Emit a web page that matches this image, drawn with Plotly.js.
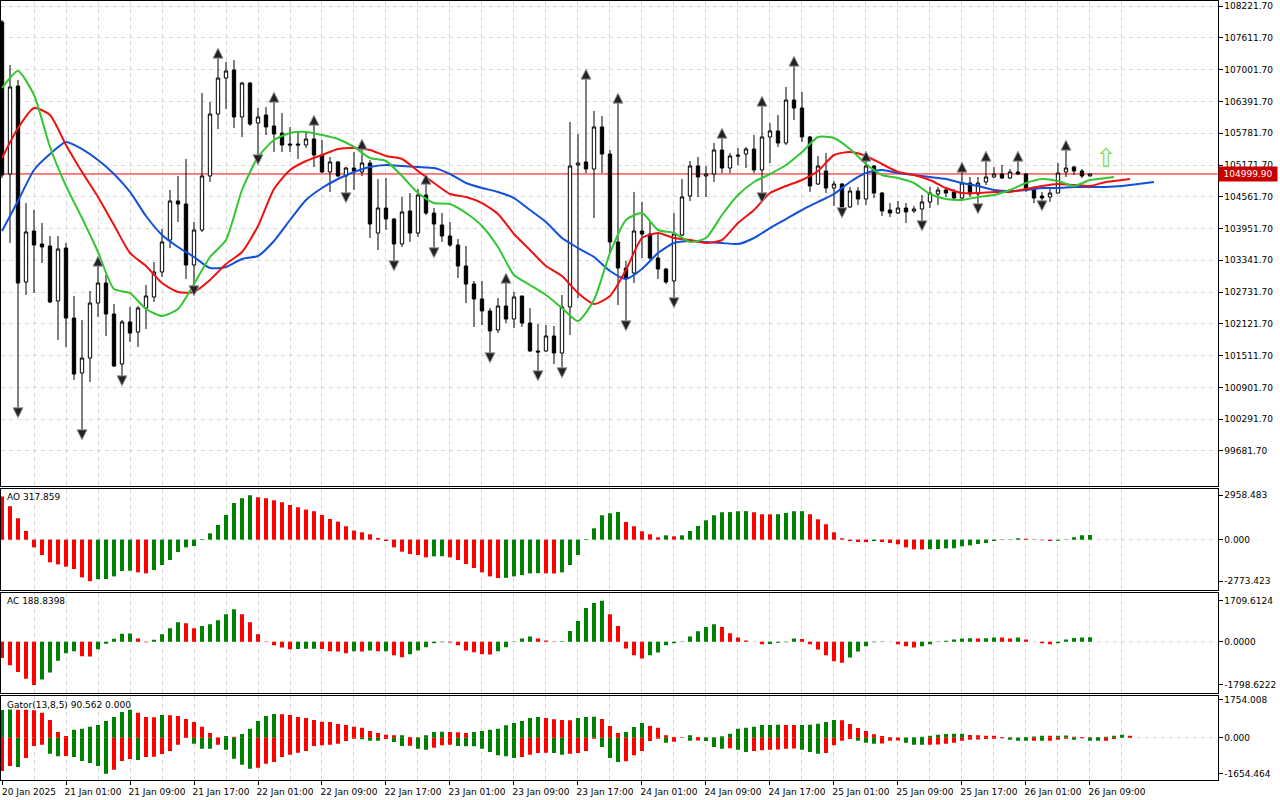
<!DOCTYPE html>
<html><head><meta charset="utf-8">
<script src="https://cdn.plot.ly/plotly-3.0.1.min.js"></script>
<style>html,body{margin:0;padding:0;background:#fff;}#chart{width:1280px;height:800px;}</style>
</head><body><div id="chart"></div>
<script>
// ---------------- DATA (hourly BTCUSD bars, 20 Jan 17:00 .. 26 Jan 09:00) ----------------
const timeLabels = ["20 Jan 2025","21 Jan 01:00","21 Jan 09:00","21 Jan 17:00","22 Jan 01:00","22 Jan 09:00","22 Jan 17:00","23 Jan 01:00","23 Jan 09:00","23 Jan 17:00","24 Jan 01:00","24 Jan 09:00","24 Jan 17:00","25 Jan 01:00","25 Jan 09:00","25 Jan 17:00","26 Jan 01:00","26 Jan 09:00"];
const barsPerLabel = 8;

const open = [107918,104999,106689,102926,103905,103655,103617,102561,103578,102234,
101178,101466,102522,102906,102311,101351,102158,101966,102426,102638,
103118,103732,104481,104423,103252,103924,104961,106151,106842,106996,
106094,106746,105978,106132,105921,105786,105575,105575,105556,105671,
105364,105038,105230,104961,105114,105038,105210,103866,104346,104135,
103655,104289,103866,104596,104250,104020,103809,103636,103233,102887,
102599,102369,102004,102465,102215,102657,102138,101601,101601,101889,
101562,102446,105172,105230,105095,105902,105383,103694,103194,103098,
103905,103847,103386,103175,102945,103828,104577,105153,104961,104999,
105460,105114,105364,105383,105479,105076,105710,105825,105594,106420,
106266,105710,104807,105057,104730,104807,104366,104673,104519,105153,
104634,104308,104250,104346,104289,104327,104462,104615,104692,104654,
104538,104826,104615,104846,104942,104999,104922,105038,104999,104692,
104577,104558,104634,105038,105134,105057,104961];
const high = [107956,107092,106804,104442,104308,104058,103809,103809,103674,102657,
102196,102753,103252,103060,102503,102196,102446,102465,102868,103310,
103943,104692,104961,105287,104078,106554,106382,107246,107150,107188,
106766,106766,106266,106286,106401,106170,105902,105786,105786,105959,
105652,105326,105249,105134,105422,105498,105268,104903,104922,104154,
104558,104634,104711,104826,104346,104250,104078,103751,103617,102945,
102945,102426,102618,102926,102734,102657,102426,102119,102100,102081,
102676,105998,105767,106842,106209,106113,105460,106382,103329,104654,
104462,104097,103866,103194,104250,104903,105249,105326,105153,105594,
105710,105402,105498,105518,105748,106324,105978,106132,106670,107092,
106574,105729,105345,105402,104865,104826,104750,104750,105268,105172,
104654,104442,104481,104442,104385,104596,104750,104750,104750,104711,
105057,104942,104942,105268,105134,105172,105095,105268,105018,104730,
104654,104730,105210,105479,105153,105095,105010];
const low = [104922,103674,100468,102676,102714,103290,102522,101812,101678,101044,
100046,101006,102254,101889,101294,101082,101774,101678,102023,102542,
103022,103578,104078,102983,102810,103886,104846,105863,106247,105882,
105710,105921,105326,105748,105422,105422,105422,105287,105498,105134,
105018,104654,104942,104596,104692,104961,103770,103540,103924,103290,
103598,103694,103790,104212,103540,103694,103598,103002,102522,102062,
102100,101524,101946,102138,102042,102062,101582,101178,101582,101351,
101236,101908,102618,105018,104154,105018,103482,102484,102138,102906,
103386,103348,102983,102887,102580,103809,104481,104558,104558,104846,
105018,105018,105172,105114,105018,104596,105210,105518,105556,106036,
105614,104654,104788,104634,104385,104308,104346,104404,104404,104538,
104193,104174,104231,104058,104250,104058,104346,104404,104558,104519,
104519,104558,104385,104788,104922,104903,104903,104980,104654,104442,
104442,104462,104634,104942,104980,104922,104961];
const close = [104980,106670,102906,103886,103636,103598,102542,103559,102234,101159,
101466,102522,102906,102311,101313,102158,101946,102426,102657,103118,
103694,104481,104423,103252,103924,104961,106151,106842,106977,106094,
106746,105959,106094,105902,105767,105556,105556,105556,105671,105364,
105038,105230,104961,105114,105057,105210,104039,104346,104135,103655,
104270,103866,104596,104250,104039,103809,103636,103233,102887,102599,
102369,101985,102465,102215,102638,102138,101601,101582,101889,101562,
102446,105153,105210,105095,105902,105383,103694,103194,103002,103905,
103847,103386,103175,102926,103847,104558,105153,104942,104999,105460,
105114,105345,105345,105479,105076,105710,105825,105594,106420,106266,
105710,104769,105153,104730,104807,104366,104673,104519,105153,104634,
104289,104250,104346,104270,104327,104462,104634,104692,104634,104538,
104826,104615,104826,104942,104999,104922,105038,104999,104692,104538,
104538,104634,105018,105114,105057,104961,104999.9];

// Alligator lines, read every 2 bars (last point at the shifted end bar)
const jaw = [103905,104481,105076,105383,105614,105479,105268,104999,104654,104193,
103828,103598,103406,103194,103214,103367,103425,103713,104116,104500,
104730,104903,105038,105134,105172,105153,105134,105114,104999,104826,
104730,104654,104538,104308,104078,103770,103578,103406,103137,102983,
103175,103482,103674,103713,103694,103674,103655,103770,103962,104135,
104308,104462,104615,104846,105018,105076,105018,104980,104942,104903,
104826,104769,104692,104673,104692,104730,104730,104750,104750,104750,
104769,104807,104846];
const jawEndBar = 144;
const teeth = [105306,105882,106266,106132,105556,105038,104558,104020,103482,103233,
102906,102734,102734,102964,103271,103502,104001,104711,105076,105249,
105364,105479,105498,105460,105345,105287,105057,104826,104615,104558,
104442,104231,103847,103540,103233,103041,102714,102503,102657,103156,
103770,103866,103770,103732,103674,103732,104058,104308,104634,104769,
104884,105057,105364,105422,105345,105191,105038,104980,104884,104730,
104634,104634,104654,104654,104711,104769,104807,104788,104769,104846,
104884,104903];
const teethEndBar = 141;
const lips = [106650,106977,106516,105518,104769,104154,103502,102791,102714,102407,
102273,102407,102887,103406,103732,104692,105326,105652,105786,105806,
105748,105671,105518,105306,105249,104961,104634,104442,104423,104250,
104001,103598,103060,102868,102676,102426,102177,102580,103482,104116,
104250,103924,103866,103694,103770,104212,104596,104846,104999,105172,
105422,105710,105690,105479,105191,104980,104922,104826,104615,104519,
104500,104558,104596,104692,104826,104903,104865,104769,104884,104922,
104942];
const lipsEndBar = 139;

// Fractal bars
const fractalUp = [12,27,34,39,45,53,63,73,77,90,95,99,108,120,123,127,133];
const fractalDown = [2,10,15,24,32,43,49,54,61,67,70,78,84,95,105,115,122,130];

// Buy-signal arrow object
const signalBar = 138, signalPrice = 105300;

// Awesome Oscillator
const ao = [2877,2230,1427,580,-513,-1026,-1516,-1650,-1806,-1962,
-2520,-2773.423,-2640,-2630,-2453,-2090,-2074,-2185,-2252,-2029,
-1695,-1360,-825,-513,-424,40,424,981,1650,2453,
2765,2958.483,2832,2765,2631,2498,2319,2163,2007,1896,
1650,1383,1204,892,602,491,357,112,-89,-513,
-803,-959,-1026,-1182,-1115,-1105,-1182,-1360,-1628,-1896,
-2185,-2453,-2565,-2550,-2453,-2364,-2252,-2240,-2250,-2260,
-2185,-1695,-1026,40,758,1628,1762,1851,1182,892,
558,357,156,290,223,290,580,914,1293,1628,
1829,1840,1896,1905,1829,1695,1690,1700,1784,1896,
1900,1695,1360,1026,491,89,-89,-156,-165,-89,
-156,-223,-312,-513,-647,-655,-640,-630,-580,-575,
-446,-379,-290,-223,-89,-22,22,89,67,5,
-40,-89,-67,10,156,290,317.859];
// Accelerator Oscillator
const ac = [-674,-982,-1263,-1543,-1798.6222,-1571,-1277,-786,-477,-393,
-603,-610,-309,-84,126,337,345,140,-15,84,
309,561,814,772,561,659,730,898,1150,1361,
1150,814,309,-10,-140,-239,-309,-300,-295,-290,
-305,-393,-400,-477,-393,-400,-365,-393,-390,-561,
-645,-519,-365,-224,-56,-14,-28,-140,-365,-435,
-519,-525,-393,-224,-10,140,224,140,56,14,
20,449,870,1403,1613,1709.6124,1150,659,-281,-561,
-701,-561,-449,-140,-56,-8,224,435,617,730,
617,351,182,56,5,-98,-90,-42,-14,133,
120,-98,-323,-561,-814,-870,-659,-407,-182,-20,
-5,3,-98,-182,-238,-182,-98,-10,42,98,
140,150,135,145,182,175,140,182,98,5,
-56,-98,-56,98,160,180,188.8398];
// Gator Oscillator (13,8,5)
const gatorUp = [1272,1295,1288,1280,1257,1150,812,261,77,368,
414,506,583,767,950,1180,1288,1150,950,943,
1042,1035,996,858,721,506,215,8,77,46,
169,414,767,996,1088,1081,1042,950,904,812,
736,721,629,583,506,460,307,215,138,107,
115,31,15,107,261,276,261,253,215,261,
307,368,414,567,675,767,904,950,904,843,
812,805,904,950,958,858,537,215,261,491,
675,537,460,107,31,15,107,31,15,23,
61,184,414,460,506,583,587,590,586,583,
589,595,644,721,812,805,629,445,307,153,
77,15,8,5,15,46,92,138,169,176,
184,123,115,92,84,31,15,8,31,54,
92,84,92,100,46,31,15,31,46,92,
138,90.562];
const gatorDown = [-1533,-1303,-1349,-935,-383,-322,-736,-858,-843,-889,
-1073,-1165,-1303,-1654.464,-1472,-1073,-981,-1027,-889,-874,
-751,-613,-322,-8,-276,-506,-514,-322,-552,-966,
-1242,-1426,-1380,-1196,-1119,-889,-782,-690,-613,-383,
-353,-322,-276,-153,-46,-77,-138,-146,-61,-199,
-383,-376,-506,-552,-460,-353,-322,-383,-391,-399,
-506,-659,-812,-858,-935,-889,-782,-705,-690,-705,
-782,-736,-705,-613,-46,-429,-935,-1119,-1088,-812,
-613,-153,-46,-230,-184,-8,-138,-130,-153,-429,
-506,-491,-552,-659,-613,-583,-552,-544,-506,-498,
-552,-659,-736,-705,-353,-138,-61,-138,-230,-276,
-268,-138,-130,-230,-322,-330,-322,-314,-276,-230,
-138,-92,-84,-61,-46,-31,-92,-138,-146,-138,
-146,-138,-92,-46,-92,-31,-138,-146,-138,-61,
0,0];

// Axis tick values
const priceTicks = [108221.70,107611.70,107001.70,106391.70,105781.70,105171.70,104561.70,103951.70,103341.70,102731.70,102121.70,101511.70,100901.70,100291.70,99681.70];
const aoTicks = [2958.483,0,-2773.423];
const acTicks = [1709.6124,0,-1798.6222];
const gatorTicks = [1754.008,0,-1654.464];

// ---------------- LAYOUT HELPERS ----------------
const W = 1280, H = 800;
const dX = (a,b)=>[a/W,b/W];
const dY = (top,bot)=>[1-bot/H,1-top/H];
const XR = [-0.125,151.94];
const GREEN = '#008000', RED = '#ff0000';
const GRID = '#d6d6d6', DASH = '4px,4px';
const FONT = {family:'DejaVu Sans, Verdana, sans-serif', size:9, color:'#000'};

const bars = close.map((_,i)=>i);
const gBars = gatorUp.map((_,i)=>i);
const majorTicks = timeLabels.map((_,k)=>k*barsPerLabel);
const minorTicks = timeLabels.map((_,k)=>k*barsPerLabel+barsPerLabel/2);

function lineBars(arr,endBar){ return arr.map((_,k)=> k===arr.length-1 ? endBar : 2*k); }
function trendColors(v, first){
  const c=[]; v.forEach((x,i)=>{ if(i===0) c.push(first); else if(x>v[i-1]) c.push(GREEN); else if(x<v[i-1]) c.push(RED); else c.push(c[i-1]); }); return c;
}
function magColors(v, first){ return trendColors(v.map(Math.abs), first); }

const xDom = dX(1,1217.5);
function xAxis(anchor, labels){
  return {domain:xDom, range:XR, anchor:anchor, showline:true, mirror:true, linecolor:'#000', linewidth:1,
    zeroline:false, fixedrange:true, tickmode:'array', tickvals:majorTicks, ticktext:timeLabels,
    showgrid:true, gridcolor:GRID, griddash:DASH, gridwidth:1,
    ticks: labels?'outside':'', ticklen:4, tickcolor:'#000', showticklabels:labels,
    ticklabelshift: labels?27:0, tickfont:FONT,
    minor:{tickmode:'array', tickvals:minorTicks, showgrid:true, gridcolor:GRID, griddash:DASH, gridwidth:1, ticks:''},
    rangeslider:{visible:false}};
}
function yAxis(anchor, dom, range, tv, tt, grid){
  return {domain:dom, range:range, anchor:anchor, side:'right', showline:true, mirror:true, linecolor:'#000', linewidth:1,
    zeroline:false, fixedrange:true, tickmode:'array', tickvals:tv, ticktext:tt, ticks:'outside', ticklen:4, tickcolor:'#000',
    tickfont:FONT, showgrid:grid, gridcolor:GRID, griddash:DASH, gridwidth:1};
}

const lastClose = close[close.length-1];
const upOff = 170, dnOff = 150;

const traces = [
  {type:'candlestick', x:bars, open:open, high:high, low:low, close:close, xaxis:'x', yaxis:'y',
   increasing:{line:{color:'#000',width:1}, fillcolor:'#ffffff'},
   decreasing:{line:{color:'#000',width:1}, fillcolor:'#000000'}, whiskerwidth:0, hoverinfo:'skip'},
  {type:'scatter', mode:'lines', x:lineBars(jaw,jawEndBar), y:jaw, line:{color:'#1152d8',width:2,shape:'spline',smoothing:0.6}, xaxis:'x', yaxis:'y'},
  {type:'scatter', mode:'lines', x:lineBars(teeth,teethEndBar), y:teeth, line:{color:'#f01010',width:2,shape:'spline',smoothing:0.6}, xaxis:'x', yaxis:'y'},
  {type:'scatter', mode:'lines', x:lineBars(lips,lipsEndBar), y:lips, line:{color:'#33c633',width:2,shape:'spline',smoothing:0.6}, xaxis:'x', yaxis:'y'},
  {type:'scatter', mode:'markers', x:fractalUp, y:fractalUp.map(i=>high[i]+upOff), xaxis:'x', yaxis:'y',
   marker:{symbol:'arrow-up', size:10, color:'#222', line:{color:'#9a9a9a',width:1}}},
  {type:'scatter', mode:'markers', x:fractalDown, y:fractalDown.map(i=>low[i]-dnOff), xaxis:'x', yaxis:'y',
   marker:{symbol:'arrow-down', size:10, color:'#222', line:{color:'#9a9a9a',width:1}}},
  {type:'bar', x:bars, y:ao, width:0.5, marker:{color:trendColors(ao,RED), line:{width:0}}, xaxis:'x2', yaxis:'y2'},
  {type:'bar', x:bars, y:ac, width:0.5, marker:{color:trendColors(ac,RED), line:{width:0}}, xaxis:'x3', yaxis:'y3'},
  {type:'bar', x:gBars, y:gatorUp, width:0.5, marker:{color:magColors(gatorUp,GREEN), line:{width:0}}, xaxis:'x4', yaxis:'y4'},
  {type:'bar', x:gBars, y:gatorDown, width:0.5, marker:{color:magColors(gatorDown,RED), line:{width:0}}, xaxis:'x4', yaxis:'y4'}
];

const zeroLine = (n)=>({type:'line', xref:'x'+n+' domain', x0:0, x1:1, yref:'y'+n, y0:0, y1:0, layer:'below', line:{color:GRID,width:1,dash:DASH}});

const layout = {
  width:W, height:H, margin:{l:0,r:0,t:0,b:0}, paper_bgcolor:'#fff', plot_bgcolor:'#fff',
  showlegend:false, hovermode:false, barmode:'overlay', boxgap:0.4, font:FONT,
  xaxis: xAxis('y', false),
  xaxis2: xAxis('y2', false),
  xaxis3: xAxis('y3', false),
  xaxis4: xAxis('y4', true),
  yaxis: yAxis('x', dY(1,486), [108340-19.2*486, 108340-19.2*1], priceTicks, priceTicks.map(v=>v.toFixed(2)), true),
  yaxis2: yAxis('x2', dY(489,590), [-3362,3382], aoTicks, aoTicks.map(v=>v.toFixed(3)), false),
  yaxis3: yAxis('x3', dY(592.5,693), [-2134,2054], acTicks, acTicks.map(v=>v.toFixed(4)), false),
  yaxis4: yAxis('x4', dY(696,779.5), [-1923,1918], gatorTicks, gatorTicks.map(v=>v.toFixed(3)), false),
  shapes:[
    {type:'line', xref:'x domain', x0:0, x1:1, yref:'y', y0:lastClose, y1:lastClose, layer:'below', line:{color:'#ff0000',width:1}},
    zeroLine(2), zeroLine(3), zeroLine(4)
  ],
  annotations:[
    {xref:'paper', x:1218/W, xanchor:'left', yref:'y', y:lastClose, yanchor:'middle', text:lastClose.toFixed(2),
     showarrow:false, bgcolor:'#c80000', font:{family:FONT.family,size:9,color:'#fff'}, width:56, height:12, borderpad:1},
    {xref:'paper', x:5/W, xanchor:'left', yref:'paper', y:1-497/H, yanchor:'middle', showarrow:false,
     text:'AO '+ao[ao.length-1].toFixed(3), font:FONT},
    {xref:'paper', x:5/W, xanchor:'left', yref:'paper', y:1-601/H, yanchor:'middle', showarrow:false,
     text:'AC '+ac[ac.length-1].toFixed(4), font:FONT},
    {xref:'paper', x:5/W, xanchor:'left', yref:'paper', y:1-705/H, yanchor:'middle', showarrow:false,
     text:'Gator(13,8,5) '+gatorUp[gatorUp.length-1].toFixed(3)+' '+Math.abs(gatorDown[gatorDown.length-1]).toFixed(3), font:FONT},
    {xref:'x', x:signalBar, yref:'y', y:signalPrice, showarrow:false, text:'\u21E7',
     font:{family:'DejaVu Sans', size:26, color:'#86dd5e'}}
  ]
};

Plotly.newPlot('chart', traces, layout, {staticPlot:true, displayModeBar:false});
</script></body></html>
